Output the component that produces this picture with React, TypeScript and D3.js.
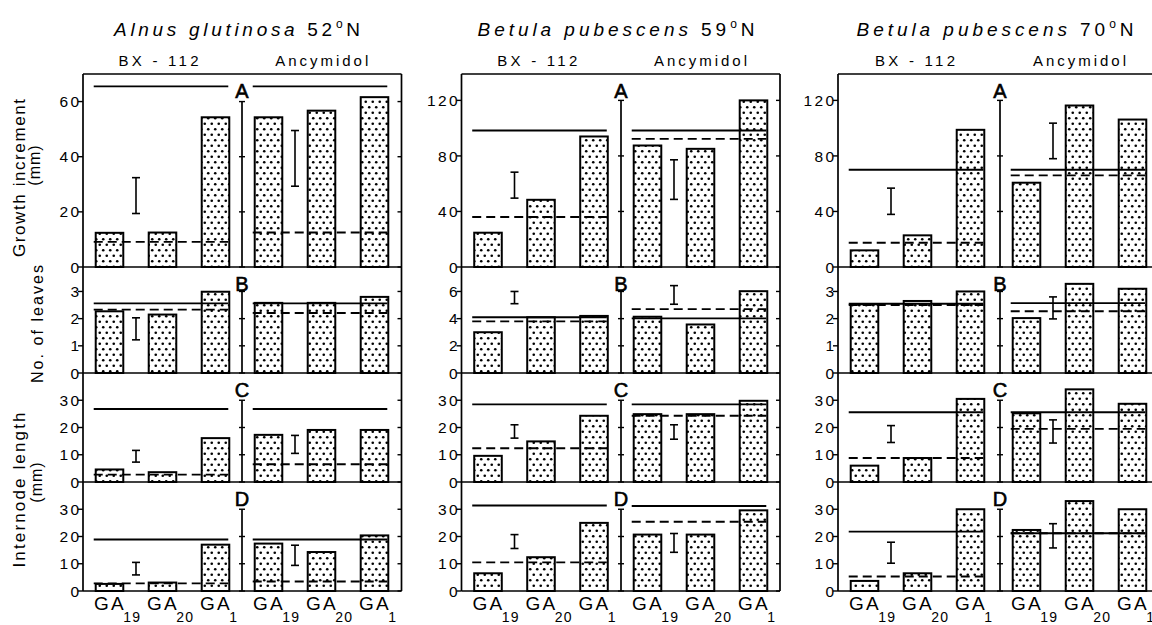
import React from "react";
import * as d3 from "d3";

// ---- data ----
const species = ["Alnus glutinosa", "Betula pubescens", "Betula pubescens"];
const latitudes = ["52", "59", "70"];
const treatments = ["BX - 112", "Ancymidol"];
const gaLabels = ["19", "20", "1"];
const rowLetters = ["A", "B", "C", "D"];

// bars per row: BX-112 GA19, GA20, GA1 | Ancymidol GA19, GA20, GA1
const alnusBars = [
  [12.4, 12.5, 54.3, 54.3, 56.7, 61.6],
  [2.27, 2.15, 2.99, 2.58, 2.58, 2.8],
  [4.6, 3.6, 16.1, 17.3, 19.1, 19.1],
  [2.6, 3.1, 17, 17.4, 14.3, 20.4],
];
const betula59Bars = [
  [24.7, 48.4, 94, 87.5, 85.1, 120],
  [3.0, 4.1, 4.2, 4.14, 3.57, 6.02],
  [9.6, 14.9, 24.3, 24.9, 24.9, 29.8],
  [6.5, 12.4, 25, 20.7, 20.7, 29.6],
];
const betula70Bars = [
  [12, 22.8, 98.8, 60.7, 116.3, 106.2],
  [2.53, 2.65, 3.0, 2.02, 3.28, 3.1],
  [6, 8.8, 30.5, 25.2, 34, 28.7],
  [3.7, 6.5, 30, 22.4, 33, 30],
];

// solid control line [BX-112, Ancymidol]
const alnusSolid = [[65.5, 65.5], [2.56, 2.56], [26.8, 26.8], [18.9, 18.9]];
const betula59Solid = [[98.3, 98.3], [4.1, 4.02], [28.5, 28.5], [31.4, 31.2]];
const betula70Solid = [[70, 70], [2.55, 2.57], [25.6, 25.6], [21.8, 21.2]];

// dashed control line [BX-112, Ancymidol]
const alnusDashed = [[9.1, 12.5], [2.33, 2.21], [2.7, 6.5], [2.8, 3.5]];
const betula59Dashed = [[36, 92.3], [3.8, 4.7], [12.4, 24.3], [10.5, 25.4]];
const betula70Dashed = [[17.5, 66], [2.5, 2.27], [8.8, 19.5], [5.3, 21.2]];

// LSD bars [low, high] for [BX-112, Ancymidol]
const alnusLsd = [
  [[19.4, 32.4], [29.3, 49.5]],
  [[1.22, 2.03], null],
  [[7.3, 11.6], [10.5, 17.1]],
  [[5.9, 10.5], [9.4, 16.8]],
];
const betula59Lsd = [
  [[49.6, 68.3], [48.7, 77.2]],
  [[5.1, 6.0], [5.06, 6.43]],
  [[16.1, 21], [15.7, 21]],
  [[15.6, 20.7], [14.2, 21.1]],
];
const betula70Lsd = [
  [[37.9, 56.8], [78, 103.6]],
  [null, [1.99, 2.8]],
  [[14.5, 20.7], [14.3, 22.8]],
  [[10.2, 17.9], [15.8, 24.7]],
];

const alnusMax = [70, 3.9, 40, 40];
const betula59Max = [139, 7.8, 40, 40];
const betula70Max = [139, 3.9, 40, 40];

const alnusTicks = [[0, 20, 40, 60], [0, 1, 2, 3], [0, 10, 20, 30], [0, 10, 20, 30]];
const betula59Ticks = [[0, 40, 80, 120], [0, 2, 4, 6], [0, 10, 20, 30], [0, 10, 20, 30]];
const betula70Ticks = [[0, 40, 80, 120], [0, 1, 2, 3], [0, 10, 20, 30], [0, 10, 20, 30]];

const panels = [
  { bars: alnusBars, solid: alnusSolid, dashed: alnusDashed, lsd: alnusLsd, max: alnusMax, ticks: alnusTicks },
  { bars: betula59Bars, solid: betula59Solid, dashed: betula59Dashed, lsd: betula59Lsd, max: betula59Max, ticks: betula59Ticks },
  { bars: betula70Bars, solid: betula70Solid, dashed: betula70Dashed, lsd: betula70Lsd, max: betula70Max, ticks: betula70Ticks },
];

// ---- layout ----
const W = 1152;
const H = 625;
const FONT = "'Liberation Sans', Arial, Helvetica, sans-serif";
const panelLeft = [83, 461.5, 838];
const panelMid = [242, 621, 1000];
const panelRight = [401.5, 780, 1159];
const rowTop = [74, 267, 373, 482];
const rowBottom = [267, 373, 482, 591];
const titleLen = [246, 277, 277];

const xb = d3.scaleBand<string>().domain(gaLabels).range([0, 159]).paddingInner(0.48).paddingOuter(0.24);

const Panel = ({ p }: { p: number }) => {
  const d = panels[p];
  const left = panelLeft[p];
  const mid = panelMid[p];
  const right = panelRight[p];
  const halves = [left, mid];
  const bw = xb.bandwidth();

  return (
    <g>
      {/* title */}
      <text x={mid - 5} y={36} textAnchor="middle" fontSize={19} textLength={titleLen[p]} lengthAdjust="spacing">
        <tspan fontStyle="italic">{species[p]}</tspan>
        <tspan>{"\u00a0" + latitudes[p]}</tspan>
        <tspan fontSize={12} dy={-8}>o</tspan>
        <tspan dy={8}>N</tspan>
      </text>
      {treatments.map((t, h) => (
        <text key={t} x={(halves[h] + (h === 0 ? mid : right)) / 2 - (h === 0 ? 4 : 0)} y={66}
          textAnchor="middle" fontSize={15} textLength={h === 0 ? 80 : 93} lengthAdjust="spacing">
          {t}
        </text>
      ))}

      {rowLetters.map((letter, r) => {
        const y = d3.scaleLinear().domain([0, d.max[r]]).range([rowBottom[r], rowTop[r]]);
        const ticks = d.ticks[r];
        const topTick = ticks[ticks.length - 1];
        return (
          <g key={letter}>
            {/* bars */}
            {d.bars[r].map((v, i) => {
              const x0 = halves[Math.floor(i / 3)] + (xb(gaLabels[i % 3]) as number);
              return (
                <rect key={i} x={x0} y={y(v)} width={bw} height={y(0) - y(v)}
                  fill="url(#dots)" stroke="#000" strokeWidth={2} />
              );
            })}
            {/* control lines */}
            {[0, 1].map((h) => {
              const x1 = halves[h] + (xb(gaLabels[0]) as number) - 2;
              const x2 = halves[h] + (xb(gaLabels[2]) as number) + bw - 1;
              return (
                <g key={h}>
                  <line x1={x1} x2={x2} y1={y(d.solid[r][h])} y2={y(d.solid[r][h])} stroke="#000" strokeWidth={1.9} />
                  <line x1={x1} x2={x2} y1={y(d.dashed[r][h])} y2={y(d.dashed[r][h])} stroke="#000" strokeWidth={1.9} strokeDasharray="9 5" />
                </g>
              );
            })}
            {/* LSD bars */}
            {d.lsd[r].map((e, h) => {
              if (!e) return null;
              const cx = halves[h] + ((xb(gaLabels[0]) as number) + bw + (xb(gaLabels[1]) as number)) / 2;
              return (
                <g key={h} stroke="#000" strokeWidth={1.6}>
                  <line x1={cx} x2={cx} y1={y(e[0])} y2={y(e[1])} />
                  <line x1={cx - 4} x2={cx + 4} y1={y(e[0])} y2={y(e[0])} />
                  <line x1={cx - 4} x2={cx + 4} y1={y(e[1])} y2={y(e[1])} />
                </g>
              );
            })}
            {/* middle axis */}
            <line x1={mid} x2={mid} y1={y(0)} y2={y(topTick)} stroke="#000" strokeWidth={1.7} />
            {ticks.map((t) => (
              <g key={t} stroke="#000" strokeWidth={1.4}>
                <line x1={mid - 3} x2={mid + 3} y1={y(t)} y2={y(t)} />
                <line x1={left - 5} x2={left} y1={y(t)} y2={y(t)} />
                <line x1={right - 4} x2={right} y1={y(t)} y2={y(t)} />
              </g>
            ))}
            {ticks.map((t) => (
              <text key={"l" + t} x={left - 1.5} y={y(t)} dy="0.36em" textAnchor="end" fontSize={15.5} letterSpacing={2.4}>
                {t}
              </text>
            ))}
            {/* zero line */}
            <line x1={left} x2={right} y1={y(0)} y2={y(0)} stroke="#000" strokeWidth={1.7} />
            <text x={mid} y={rowTop[r] + 23.5} textAnchor="middle" fontSize={20} stroke="#000" strokeWidth={0.6}>
              {letter}
            </text>
          </g>
        );
      })}

      {/* frame */}
      <line x1={left} x2={left} y1={rowTop[0]} y2={rowBottom[3]} stroke="#000" strokeWidth={1.7} />
      <line x1={right} x2={right} y1={rowTop[0]} y2={rowBottom[3]} stroke="#000" strokeWidth={1.7} />
      <line x1={left} x2={right} y1={rowTop[0]} y2={rowTop[0]} stroke="#000" strokeWidth={1.7} />

      {/* x labels */}
      {[0, 1].map((h) =>
        gaLabels.map((g) => {
          const cx = halves[h] + (xb(g) as number) + bw / 2;
          return (
            <text key={h + g} x={cx - 15.5} y={610} fontSize={19} letterSpacing={2.2}>
              GA
              <tspan fontSize={14} dx={-2.5} dy={12} letterSpacing={1.2}>{g}</tspan>
            </text>
          );
        })
      )}
    </g>
  );
};

export default function App() {
  return (
    <svg width={W} height={H} viewBox={`0 0 ${W} ${H}`}
      style={{ position: "absolute", left: 0, top: 0, background: "#fff" }}
      fontFamily={FONT} fill="#000">
      <defs>
        <pattern id="dots" patternUnits="userSpaceOnUse" width={7} height={11}>
          <rect width={7} height={11} fill="#fff" />
          <circle cx={1.75} cy={2.75} r={1.3} fill="#000" />
          <circle cx={5.25} cy={8.25} r={1.3} fill="#000" />
        </pattern>
      </defs>
      <rect width={W} height={H} fill="#fff" />

      {/* y axis titles */}
      <text transform="translate(25,178) rotate(-90)" textAnchor="middle" fontSize={17} textLength={158} lengthAdjust="spacing">
        Growth increment
      </text>
      <text transform="translate(40,165) rotate(-90)" textAnchor="middle" fontSize={16} letterSpacing={1}>
        (mm)
      </text>
      <text transform="translate(43,324) rotate(-90)" textAnchor="middle" fontSize={16} textLength={118} lengthAdjust="spacing">
        No. of leaves
      </text>
      <text transform="translate(25,490) rotate(-90)" textAnchor="middle" fontSize={17} textLength={155} lengthAdjust="spacing">
        Internode length
      </text>
      <text transform="translate(42,482) rotate(-90)" textAnchor="middle" fontSize={16} letterSpacing={1}>
        (mm)
      </text>

      {panels.map((_, p) => (
        <Panel key={p} p={p} />
      ))}
    </svg>
  );
}
